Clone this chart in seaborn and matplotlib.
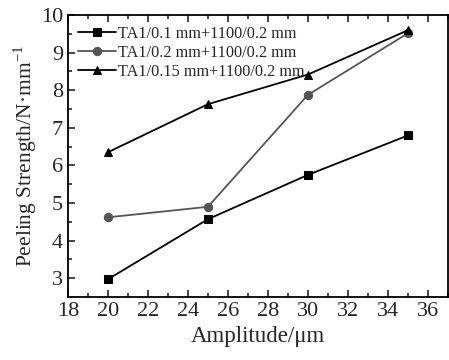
import matplotlib
matplotlib.use("Agg")
import matplotlib.pyplot as plt
import seaborn as sns
import pandas as pd
from matplotlib.ticker import MultipleLocator

amplitude = [20, 25, 30, 35]
s_01 = [2.97, 4.57, 5.75, 6.80]
s_02 = [4.62, 4.90, 7.88, 9.52]
s_015 = [6.35, 7.63, 8.42, 9.60]
labels = ["TA1/0.1 mm+1100/0.2 mm", "TA1/0.2 mm+1100/0.2 mm", "TA1/0.15 mm+1100/0.2 mm"]

sns.set_theme(style="ticks")
plt.rcParams["font.family"] = "serif"
plt.rcParams["font.serif"] = ["Liberation Serif", "DejaVu Serif"]
plt.rcParams["mathtext.fontset"] = "custom"
plt.rcParams["mathtext.rm"] = "Liberation Serif"

df = pd.DataFrame({
    "amp": amplitude * 3,
    "val": s_01 + s_02 + s_015,
    "series": [labels[0]] * 4 + [labels[1]] * 4 + [labels[2]] * 4,
})

fig = plt.figure(figsize=(4.49, 3.6), dpi=100)
ax = fig.add_axes([0.151, 0.175, 0.847, 0.783])

styles = [("s", "black"), ("o", "#555555"), ("^", "black")]
for lab, (m, c) in zip(labels, styles):
    sub = df[df["series"] == lab]
    sns.lineplot(data=sub, x="amp", y="val", marker=m, color=c, ax=ax,
                 markersize=6, linewidth=1.3, markeredgecolor=c, label=lab)

ax.set_xlim(18, 37)
ax.set_ylim(2.5, 10)
ax.xaxis.set_major_locator(MultipleLocator(2))
ax.xaxis.set_minor_locator(MultipleLocator(1))
ax.yaxis.set_major_locator(MultipleLocator(1))
ax.yaxis.set_minor_locator(MultipleLocator(0.5))
ax.tick_params(which="both", direction="in", top=True, right=False, labelsize=16, width=1.2)
ax.tick_params(which="major", length=5)
ax.tick_params(which="minor", length=3)
for sp in ax.spines.values():
    sp.set_linewidth(1.3)
    sp.set_color("black")

ax.set_xlabel("Amplitude/\u03bcm", fontsize=16.5)
ax.set_ylabel("Peeling Strength/N\u00b7mm$^{\\mathrm{-1}}$", fontsize=15.5, labelpad=1)
ax.legend(loc="upper left", frameon=False, fontsize=11.7, handlelength=2.3,
          handletextpad=0.15, borderaxespad=0.25, labelspacing=0.2)

fig.savefig("out.png", dpi=100)
